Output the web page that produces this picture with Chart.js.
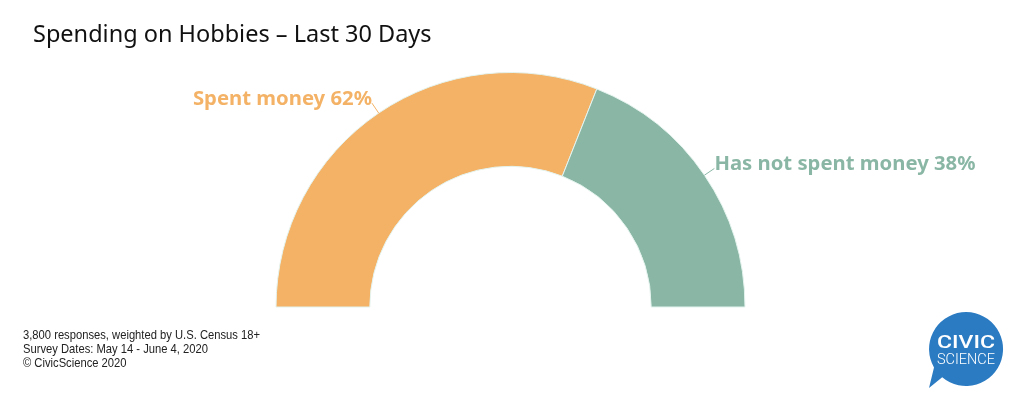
<!DOCTYPE html>
<html lang="en">
<head>
  <meta charset="UTF-8" />
  <title>Spending on Hobbies</title>
  <script src="https://cdn.jsdelivr.net/npm/chart.js"></script>
  <style>
    html, body { margin: 0; padding: 0; background: #fff; }
    body { width: 1024px; height: 395px; position: relative; overflow: hidden; font-family: "Noto Sans", sans-serif; }
    #title { position: absolute; left: 33px; top: 17px; font-size: 23.5px; color: #111; white-space: nowrap; }
    #notes { position: absolute; left: 23px; top: 328px; font-family: "Liberation Sans", sans-serif; font-size: 13.5px; line-height: 14px; color: #222; white-space: nowrap; transform: scaleX(0.83); transform-origin: left top; }
    #wrap { position: absolute; left: 0; top: 0; width: 1024px; height: 395px; }
    #logo { position: absolute; left: 904px; top: 300px; }
  </style>
</head>
<body>
  <div id="wrap"><canvas id="chart"></canvas></div>
  <div id="title">Spending on Hobbies – Last 30 Days</div>
  <div id="notes">
    3,800 responses, weighted by U.S. Census 18+<br>
    Survey Dates: May 14 - June 4, 2020<br>
    © CivicScience 2020
  </div>
  <svg id="logo" width="120" height="95" viewBox="0 0 120 95">
    <path d="M 30 67.5 A 37 37 0 1 1 38.2 77.3 L 25 88 Z" fill="#2b7bc3"/>
    <text x="62" y="48" text-anchor="middle" font-family="Roboto, sans-serif" font-weight="500" font-size="18.5" textLength="58" lengthAdjust="spacingAndGlyphs" fill="#fff">CIVIC</text>
    <text x="62" y="64" text-anchor="middle" font-family="Roboto, sans-serif" font-weight="300" font-size="14.5" textLength="58" lengthAdjust="spacingAndGlyphs" fill="#fff">SCIENCE</text>
  </svg>

<script>
  const categories = ['Spent money', 'Has not spent money'];
  const shares = [62, 38];
  const colors = ['#f3b266', '#8ab7a5'];

  // labels with short radial leader lines at each slice midpoint
  const sliceLabels = {
    id: 'sliceLabels',
    afterDatasetsDraw(chart) {
      const ctx = chart.ctx;
      const arcs = chart.getDatasetMeta(0).data;
      arcs.forEach((arc, i) => {
        const mid = (arc.startAngle + arc.endAngle) / 2;
        const r = arc.outerRadius;
        const x0 = arc.x + Math.cos(mid) * r;
        const y0 = arc.y + Math.sin(mid) * r;
        const x1 = arc.x + Math.cos(mid) * (r + 12);
        const y1 = arc.y + Math.sin(mid) * (r + 12);
        ctx.save();
        ctx.strokeStyle = colors[i];
        ctx.lineWidth = 1;
        ctx.beginPath();
        ctx.moveTo(x0, y0);
        ctx.lineTo(x1, y1);
        ctx.stroke();
        ctx.fillStyle = colors[i];
        ctx.font = 'bold 20.3px "Noto Sans", sans-serif';
        ctx.textBaseline = 'alphabetic';
        const txt = categories[i] + ' ' + shares[i] + '%';
        ctx.textAlign = Math.cos(mid) < 0 ? 'right' : 'left';
        ctx.fillText(txt, x1, y1 + 2);
        ctx.restore();
      });
    }
  };

  new Chart(document.getElementById('chart'), {
    type: 'doughnut',
    data: {
      labels: categories,
      datasets: [{
        data: shares,
        backgroundColor: colors,
        borderColor: '#e4f3ee',
        borderWidth: 1
      }]
    },
    options: {
      responsive: true,
      maintainAspectRatio: false,
      animation: false,
      rotation: -90,
      circumference: 180,
      cutout: '60%',
      layout: { padding: { left: 275.5, right: 278.5, top: 72, bottom: 87.5 } },
      plugins: {
        legend: { display: false },
        tooltip: { enabled: false }
      }
    },
    plugins: [sliceLabels]
  });
</script>
</body>
</html>
